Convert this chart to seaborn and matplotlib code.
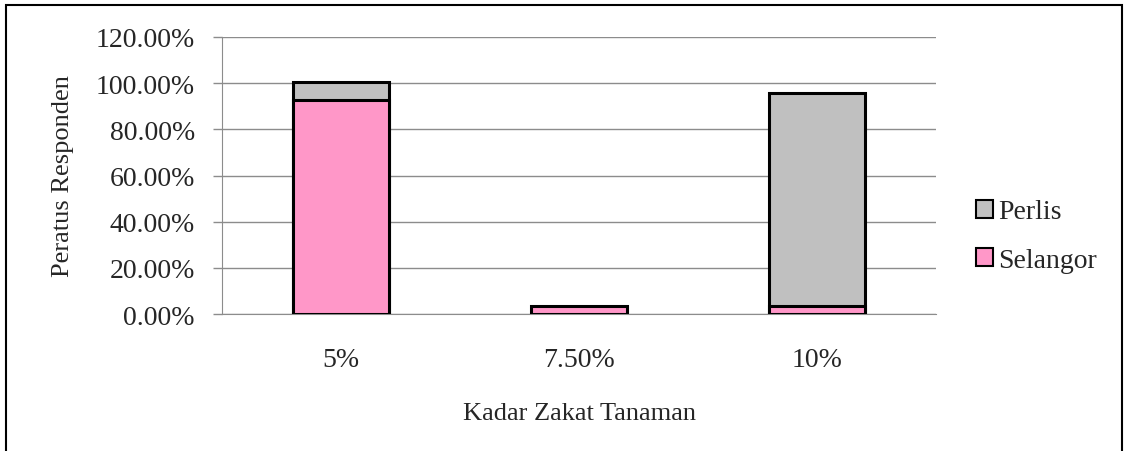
import numpy as np
import pandas as pd
import matplotlib
matplotlib.use("Agg")
import matplotlib.pyplot as plt
from matplotlib.patches import Rectangle, Patch
import seaborn as sns

# values
categories = ['5%', '7.50%', '10%']
selangor = [92.6, 3.7, 3.7]
perlis = [8.0, 0.0, 92.0]

sns.set_style("white")
plt.rcParams['font.family'] = ['Liberation Serif', 'DejaVu Serif']

data = pd.DataFrame({'kadar': categories, 'Selangor': selangor, 'Perlis': perlis})
data['total'] = data['Selangor'] + data['Perlis']

fig = plt.figure(figsize=(11.28, 4.52), dpi=100)
ax = fig.add_axes([0.1968, 0.303, 0.6330, 0.613])

pink = '#FF97C8'
grey = '#C0C0C0'
gline = '#8C8C8C'

# stacked: grey total behind, pink selangor in front
sns.barplot(data=data, x='kadar', y='total', color=grey, width=0.40,
            edgecolor='black', linewidth=2.2, saturation=1, ax=ax, zorder=3)
sns.barplot(data=data, x='kadar', y='Selangor', color=pink, width=0.40,
            edgecolor='black', linewidth=2.2, saturation=1, ax=ax, zorder=4)
# hide grey bars where perlis has no share
for p, v in zip(ax.patches[:3], perlis):
    if v == 0:
        p.set_visible(False)

ax.set_ylim(0, 120)
ax.set_xlim(-0.5, 2.5)
ax.set_yticks(np.arange(0, 121, 20))
ax.set_yticklabels(['%.2f%%' % v for v in np.arange(0, 121, 20)], fontsize=20)
ax.tick_params(axis='x', labelsize=20, length=0, pad=24)
ax.tick_params(axis='y', length=6.5, color=gline, width=1, left=True, pad=13)
ax.yaxis.grid(True, color=gline, linewidth=1, zorder=0)
ax.set_axisbelow(True)
for s in ['top', 'right']:
    ax.spines[s].set_visible(False)
ax.spines['left'].set_color(gline)
ax.spines['bottom'].set_color(gline)
# category separator ticks below axis
ax.set_xticks([0.5, 1.5, 2.5], minor=True)
ax.tick_params(axis='x', which='minor', length=6.5, color=gline, width=1)

ax.set_xlabel('Kadar Zakat Tanaman', fontsize=19, va='center')
ax.set_ylabel('Peratus Responden', fontsize=19, va='center')
ax.xaxis.set_label_coords(0.5, -0.356)
ax.yaxis.set_label_coords(-0.222, 0.5)

handles = [Patch(facecolor=grey, edgecolor='black', linewidth=1.5, label='Perlis'),
           Patch(facecolor=pink, edgecolor='black', linewidth=1.5, label='Selangor')]
fig.legend(handles=handles, loc='center left', bbox_to_anchor=(0.853, 0.475),
           frameon=False, fontsize=20, handlelength=0.6, handleheight=0.6,
           handletextpad=0.2, labelspacing=0.85, borderpad=0)

# outer frame around the chart
fig.patches.append(Rectangle((0.005, -0.1), 0.99, 1.087, transform=fig.transFigure,
                             fill=False, edgecolor='black', linewidth=1.5))

fig.savefig('out.png', dpi=100)
